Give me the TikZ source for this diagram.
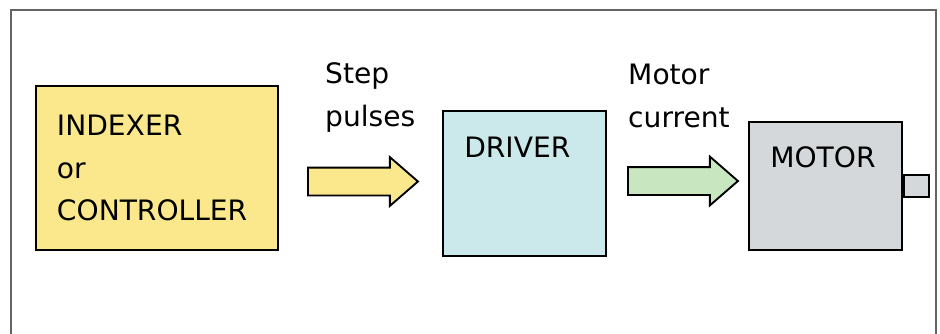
\documentclass[tikz,border=0pt]{standalone}
\usepackage{fontspec}
\setmainfont{DejaVu Sans}
\usetikzlibrary{shapes.arrows,positioning}

\definecolor{idxfill}{RGB}{251,232,140}
\definecolor{drvfill}{RGB}{203,232,234}
\definecolor{motfill}{RGB}{212,216,218}
\definecolor{curfill}{RGB}{200,230,192}
\definecolor{framegray}{RGB}{100,100,100}

\begin{document}
\begin{tikzpicture}[x=0.03cm,y=-0.03cm,
  block/.style={draw=black,line width=1.6pt,inner sep=0pt},
  lbl/.style={inner sep=0pt,align=left,font=\fontsize{24}{36}\selectfont},
  flow/.style={single arrow,draw=black,line width=1.6pt,
    inner xsep=0pt,inner ysep=0.39cm,
    minimum width=1.41cm,minimum height=3.3cm,
    single arrow head extend=0.315cm,single arrow tip angle=82}]
  \useasboundingbox (0,0) rectangle (940,334);
  \draw[framegray,line width=1.4pt] (11,334) |- (936,10) -- (936,334);

  \node[block,fill=idxfill,minimum width=7.26cm,minimum height=4.92cm,
        text width=6cm,align=left,font=\fontsize{24}{36}\selectfont]
        (indexer) at (157,168) {INDEXER\\or\\CONTROLLER};
  \node[block,fill=drvfill,minimum width=4.89cm,minimum height=4.35cm]
        (driver) at (524.5,183.5) {};
  \node[block,fill=motfill,minimum width=4.59cm,minimum height=3.84cm]
        (motor) at (825.5,186) {};
  \node[block,fill=motfill,minimum width=0.75cm,minimum height=0.66cm,
        anchor=west] (shaft) at (motor.east) {};

  \node[lbl,anchor=base west] (drvtext) at ([shift={(22,47)}]driver.north west) {DRIVER};
  \node[lbl,anchor=base west] (mottext) at ([shift={(22,46)}]motor.north west) {MOTOR};

  \node[flow,fill=idxfill,anchor=tail] (pulses) at (307,181.5) {};
  \node[flow,fill=curfill,anchor=tail] (current) at (627,181) {};

  \node[lbl,anchor=west] (pulsestext) at (325,97.5) {Step\\pulses};
  \node[lbl,anchor=west] (currenttext) at (628,96) {Motor\\current};
\end{tikzpicture}
\end{document}
